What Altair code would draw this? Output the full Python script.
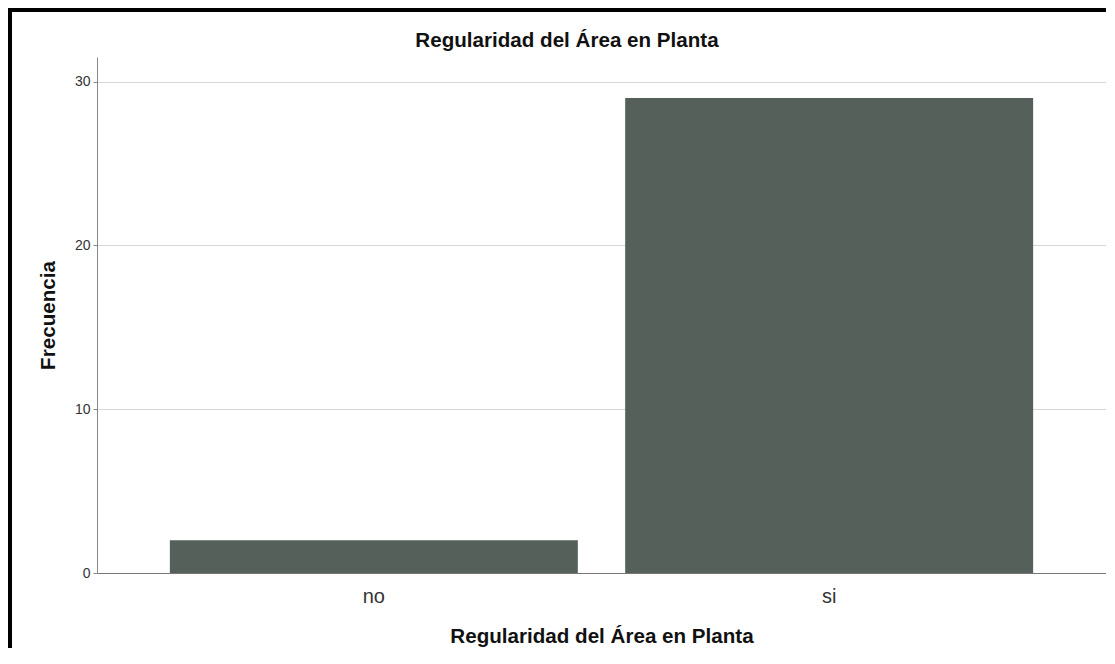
import altair as alt
import pandas as pd

categories = ["no", "si"]
frequencies = [2, 29]
y_ticks = [0, 10, 20, 30]
chart_title = "Regularidad del Área en Planta"
x_title = "Regularidad del Área en Planta"
y_title = "Frecuencia"

df = pd.DataFrame({"cat": categories, "freq": frequencies})

W, H = 1009, 516
FONT = "Liberation Sans"

bars = alt.Chart(df).mark_bar(color="#56605a").encode(
    x=alt.X(
        "cat:N",
        sort=categories,
        title=x_title,
        scale=alt.Scale(paddingInner=0.104, paddingOuter=0.16),
        axis=alt.Axis(
            labelAngle=0, labelFontSize=20, labelColor="#333333", labelFont=FONT,
            ticks=False, tickSize=0, labelPadding=13, domainColor="#777777",
            titleFontSize=20.6, titleFont=FONT, titleFontWeight="bold",
            titleColor="#111111", titlePadding=20, grid=False,
        ),
    ),
    y=alt.Y(
        "freq:Q",
        title=y_title,
        scale=alt.Scale(domain=[0, 31.5], nice=False),
        axis=alt.Axis(
            values=y_ticks, labelFontSize=14, labelColor="#333333", labelFont=FONT,
            tickSize=4, tickColor="#888888", labelPadding=3, domainColor="#888888",
            gridColor="#d6d6d6", titleFontSize=20.6, titleFont=FONT,
            titleFontWeight="bold", titleColor="#111111", titlePadding=16,
        ),
    ),
)

title_layer = alt.Chart(alt.Data(values=[{"t": chart_title}])).mark_text(
    font=FONT, fontSize=20.6, fontWeight="bold", color="#111111",
    align="center", baseline="alphabetic",
).encode(
    text="t:N",
    x=alt.value(470),
    y=alt.value(-10),
)

border = alt.Chart(alt.Data(values=[{"a": 1}])).mark_rect(
    filled=False, stroke="black", strokeWidth=10
).encode(
    x=alt.value(-90), x2=alt.value(W + 60),
    y=alt.value(-50), y2=alt.value(H + 200),
)

chart = alt.layer(bars, title_layer, border).properties(
    width=W,
    height=H,
    padding={"left": 89, "top": 49, "right": 0, "bottom": 75},
    autosize=alt.AutoSizeParams(type="none"),
    background="white",
).configure_view(stroke=None)

chart.save("out.html", embed_options={"renderer": "svg", "actions": False})
